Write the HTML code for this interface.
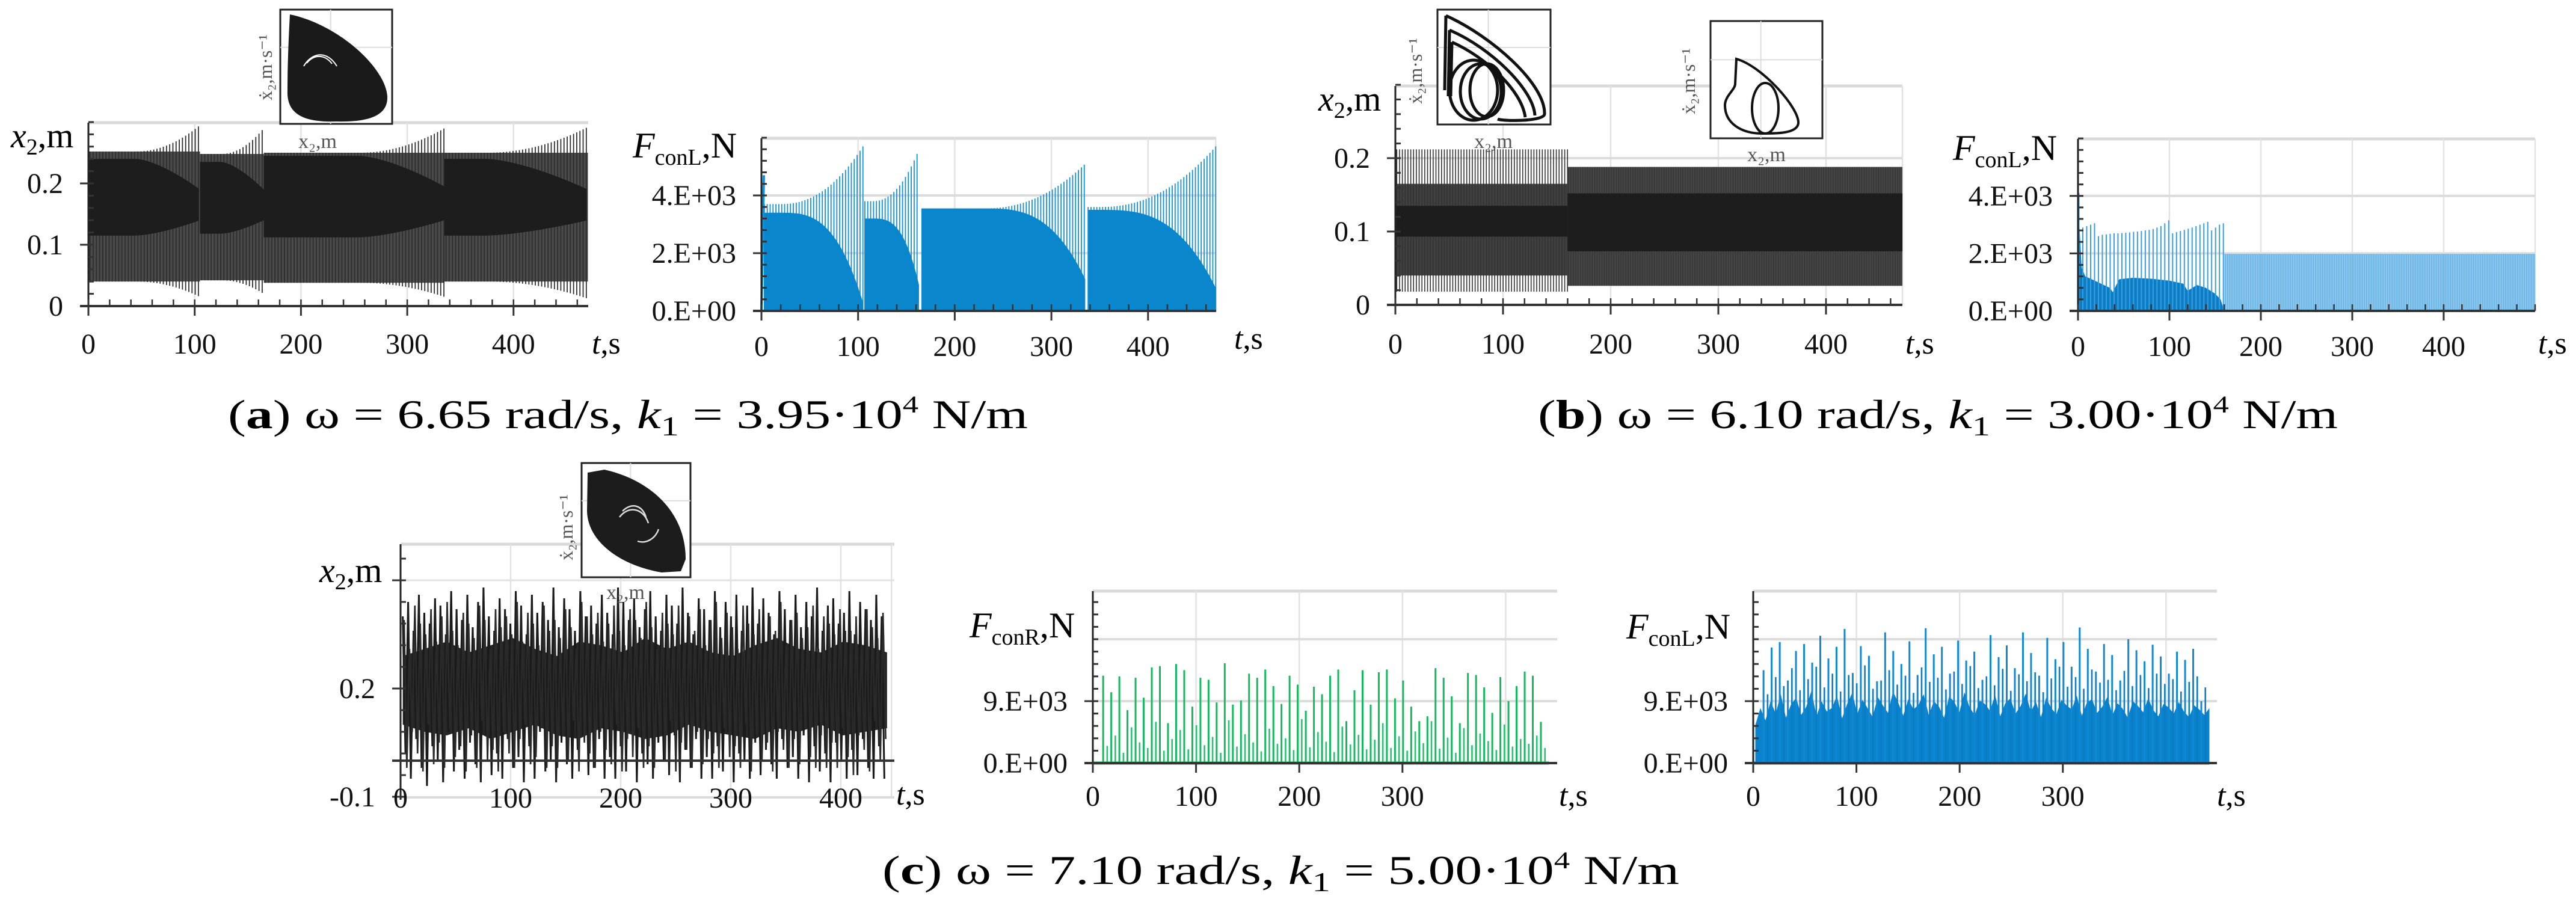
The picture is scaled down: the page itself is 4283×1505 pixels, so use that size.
<!DOCTYPE html>
<html><head><meta charset="utf-8">
<style>
html,body{margin:0;padding:0;background:#fff;}
svg{display:block;font-family:"Liberation Serif","Times New Roman",serif;}
svg text{font-family:"Liberation Serif","Times New Roman",serif;}
</style></head>
<body>
<svg id="fig" width="4283" height="1505" viewBox="0 0 4283 1505" xmlns="http://www.w3.org/2000/svg">
<rect x="0" y="0" width="4283" height="1505" fill="#fff"/>
<g id="layer-grid"></g>
<g id="layer-data"></g>
<g id="layer-axes"></g>
<g id="layer-insets"></g>

<text x="18" y="245" font-size="58"><tspan font-style="italic">x</tspan><tspan font-size="38" dy="12">2</tspan><tspan dy="-12">,m</tspan></text>
<text x="1052" y="262" font-size="60"><tspan font-style="italic">F</tspan><tspan font-size="38" dy="12">conL</tspan><tspan dy="-12">,N</tspan></text>
<text x="2192" y="184" font-size="58"><tspan font-style="italic">x</tspan><tspan font-size="38" dy="12">2</tspan><tspan dy="-12">,m</tspan></text>
<text x="3247" y="266" font-size="60"><tspan font-style="italic">F</tspan><tspan font-size="38" dy="12">conL</tspan><tspan dy="-12">,N</tspan></text>
<text x="531" y="968" font-size="58"><tspan font-style="italic">x</tspan><tspan font-size="38" dy="12">2</tspan><tspan dy="-12">,m</tspan></text>
<text x="1612" y="1060" font-size="60"><tspan font-style="italic">F</tspan><tspan font-size="38" dy="12">conR</tspan><tspan dy="-12">,N</tspan></text>
<text x="2704" y="1062" font-size="60"><tspan font-style="italic">F</tspan><tspan font-size="38" dy="12">conL</tspan><tspan dy="-12">,N</tspan></text>

<text x="984" y="588" font-size="52"><tspan font-style="italic">t</tspan>,s</text>
<text x="2052" y="580" font-size="52"><tspan font-style="italic">t</tspan>,s</text>
<text x="3168" y="588" font-size="52"><tspan font-style="italic">t</tspan>,s</text>
<text x="4220" y="588" font-size="52"><tspan font-style="italic">t</tspan>,s</text>
<text x="1490" y="1338" font-size="52"><tspan font-style="italic">t</tspan>,s</text>
<text x="2592" y="1340" font-size="52"><tspan font-style="italic">t</tspan>,s</text>
<text x="3686" y="1340" font-size="52"><tspan font-style="italic">t</tspan>,s</text>

<text x="379" y="712" font-size="68" textLength="1330" lengthAdjust="spacingAndGlyphs">(<tspan font-weight="bold">a</tspan>) ω = 6.65 rad/s,  <tspan font-style="italic">k</tspan><tspan font-size="46" dy="12">1</tspan><tspan dy="-12"> = 3.95·10</tspan><tspan font-size="40" dy="-26">4</tspan><tspan dy="26"> N/m</tspan></text>
<text x="2557" y="712" font-size="68" textLength="1330" lengthAdjust="spacingAndGlyphs">(<tspan font-weight="bold">b</tspan>) ω = 6.10 rad/s,  <tspan font-style="italic">k</tspan><tspan font-size="46" dy="12">1</tspan><tspan dy="-12"> = 3.00·10</tspan><tspan font-size="40" dy="-26">4</tspan><tspan dy="26"> N/m</tspan></text>
<text x="1467" y="1470" font-size="68" textLength="1325" lengthAdjust="spacingAndGlyphs">(<tspan font-weight="bold">c</tspan>) ω = 7.10 rad/s,  <tspan font-style="italic">k</tspan><tspan font-size="46" dy="12">1</tspan><tspan dy="-12"> = 5.00·10</tspan><tspan font-size="40" dy="-26">4</tspan><tspan dy="26"> N/m</tspan></text>
</svg>

<script>
const NS = 'http://www.w3.org/2000/svg';
const gGrid = document.getElementById('layer-grid');
const gData = document.getElementById('layer-data');
const gAxes = document.getElementById('layer-axes');
const gIns = document.getElementById('layer-insets');

/* ---------------- data arrays ---------------- */
const aSegStart = [0, 105, 165, 335];
const aSegEnd = [105, 165, 335, 470];
const aGrowFrom = [45, 125, 255, 375];
const aHiBase = [0.252, 0.248, 0.25, 0.25];
const aHiPeak = [0.295, 0.29, 0.29, 0.292];
const aLoBase = [0.04, 0.042, 0.038, 0.04];
const aLoPeak = [0.015, 0.02, 0.015, 0.012];
const aCoreTop = [0.24, 0.235, 0.245, 0.24];
const aCoreTopEnd = [0.19, 0.19, 0.195, 0.19];
const aCoreBot = [0.115, 0.118, 0.112, 0.115];
const aCoreBotEnd = [0.14, 0.14, 0.14, 0.14];
const aFStart = [3, 107, 166, 338];
const aFEnd = [105, 163, 335, 470];
const aFGrowFrom = [20, 115, 230, 350];
const aFBase = [3700, 3800, 3550, 3600];
const aFPeak = [5700, 5600, 5100, 5700];
const aFFillTop = [3400, 3200, 3550, 3500];
const aFFillEnd = [300, 900, 1100, 800];
const bSegStart = [0, 160];
const bSegEnd = [160, 471];
const bHi = [0.212, 0.188];
const bLo = [0.018, 0.026];
const bGrayHi = [0.165, 0.188];
const bGrayLo = [0.04, 0.026];
const bCoreHi = [0.135, 0.152];
const bCoreLo = [0.093, 0.073];
const bFSpike1 = [4100,2900,2950,3000,3050,2600,2650,2660,2680,2700,2700,2710,2720,2730,2750,2760,2780,2800,2820,2850,2900,2950,3050,3150,2700,2740,2780,2820,2860,2900,2950,3000,3050,3100,2800,2900,3000,3050];
const bFFillT = [0,4,8,15,25,35,38,45,60,80,100,115,120,130,140,150,156,160];
const bFFillV = [3900,1500,1200,1100,950,800,650,1100,1150,1120,1050,950,700,900,800,600,400,0];
const bFLevel2 = 1980;
const cHi = [0.40,0.44,0.36,0.46,0.41,0.38,0.45,0.43,0.35,0.47,0.42,0.39,0.46,0.37,0.44,0.48,0.40,0.36,0.45,0.42,0.38,0.47,0.43,0.35,0.46,0.41,0.44,0.39,0.48,0.37,0.45,0.42,0.36,0.47,0.40,0.43,0.38,0.46,0.41,0.35,0.48,0.44,0.39,0.45,0.37,0.42,0.47,0.40,0.36,0.46,0.43,0.38,0.48,0.41,0.35,0.45,0.42,0.39,0.47,0.37,0.44,0.40,0.46,0.36,0.43,0.48,0.38,0.45,0.41,0.35,0.47,0.42,0.39,0.46,0.37,0.44,0.40,0.48,0.36,0.43,0.45,0.38,0.41,0.47,0.35,0.44,0.42,0.39,0.46,0.40];
const cLo = [0.02,-0.05,0.06,-0.02,-0.07,0.04,0.00,-0.06,0.08,-0.03,0.03,-0.05,0.05,-0.01,-0.06,0.07,-0.04,0.02,-0.05,0.06,-0.02,0.01,-0.06,0.04,-0.05,0.08,-0.03,0.00,-0.06,0.05,-0.01,-0.05,0.03,0.07,-0.04,-0.02,0.06,-0.05,0.01,-0.05,0.04,-0.03,0.08,-0.06,0.02,-0.01,-0.05,0.05,0.00,-0.04,0.07,-0.06,0.03,-0.02,0.06,-0.05,0.01,-0.05,0.04,-0.03,0.08,-0.06,0.02,0.00,-0.05,0.05,-0.04,0.03,-0.01,-0.05,0.06,-0.02,0.01,-0.05,0.07,-0.06,0.04,-0.03,0.02,-0.06,0.05,0.00,-0.05,0.03,-0.04,0.06,-0.02,-0.05,0.04,-0.05];
const cCoreHi = [0.29,0.31,0.33,0.30,0.32,0.34,0.31,0.29,0.33,0.32,0.30,0.34,0.31,0.33,0.30,0.29,0.32,0.34,0.31,0.30,0.33,0.32,0.30];
const cCoreLo = [0.10,0.08,0.07,0.09,0.06,0.08,0.10,0.07,0.06,0.09,0.08,0.06,0.07,0.10,0.08,0.07,0.06,0.09,0.08,0.10,0.07,0.08,0.09];
const cGreenPeak = [12700,10300,12600,7700,12400,9500,13900,14100,5800,14400,13500,8200,12400,12100,8800,14500,8500,9100,13000,12400,13600,11200,8600,12700,11400,7600,11100,10000,12700,13600,6100,10600,13500,8500,13200,13600,9400,12000,8200,6100,6800,13800,12400,9700,5800,13100,12800,11000,7300,12500,9000,11200,13300,12700,6000];
const cGreenSmall = [2500,4000,1500,5200,3000,2200,6000,1800,3500,4800,2000,5500,2600,3800,1500,6200,2400,4200,3000,1700,5000,2800,3600,1900,6400,2300,4500,3100,1600,5300,2700,4100,2000,3400,5800,2200,3900,1800,4600,2900,6100,2100,3700,1500,5100,2600,4300,3200,1900,5600,2400,3500,2800,4000,2200];
const cBluePeak = [13500,16800,17600,12000,16300,17300,14600,18500,15200,16900,19500,13100,17000,15600,11900,19000,16300,14400,17700,12800,19600,15800,16900,13000,17800,14900,16200,12100,18600,15400,17100,13800,19000,16000,12700,18200,15100,17600,14000,19700,16600,13300,17300,15700,12000,18000,16400,14800,17200,15500,13000,16200,15000,16600,9000];
const cBlueMid = [10000,12500,11200,13800,10600,12200,14000,11000,13000,10400,12800,11600,14200,10800,12000,13500,11400,12700,10200,13900,11800,12400,10700,13300,11500,14100,10900,12600,11300,13700,10500,12900,11900,13200,10300,12300,14000,11100,12500,10800,13600,11700,12100,10600,13400,11200,12800,10900,13000,11500,12200,10400,11800,12600,11000];
const cBlueFill = [5500,8000,6200,9000,7200,10000,6600,8500,9500,7000,8200,10500,6800,9000,7500,8000,9800,6500,8600,10200,7200,9200,8000,6700,9600,8400,7300,10400,8800,6900,9300,7800,8500,10000,7000,9000,8200,6600,9700,8900,7400,10300,8100,7000,9100,8600,7600,9900,6800,8700,9400,7200,8300,10100,7500,8900,6700,9500,8000,7100,9200,8400,7800,9800,6900,8800,9300,7300,8200,9600,7000,8700,7900,6600,9000,8300,7400,9400,7700,6800,8600,8100,7200,8900,7500,6700,8400,7800,7000,8000];

const tXTicks = [0,100,200,300,400];
const tXLabels = ['0','100','200','300','400'];
const xYTicks = [0,0.1,0.2];
const xYLabels = ['0','0.1','0.2'];
const fYTicks = [0,2000,4000];
const fYLabels = ['0.E+00','2.E+03','4.E+03'];
const cYTicks = [-0.1,0.2];
const cYLabels = ['-0.1','0.2'];
const cfXTicks = [0,100,200,300];
const cfXLabels = ['0','100','200','300'];
const cfYTicks = [0,9000];
const cfYLabels = ['0.E+00','9.E+03'];

const PA1 = {x0:147, xs:1.767, y0:509, ys:1020, top:204, right:978};
const PA2 = {x0:1266, xs:1.607, y0:517, ys:0.048, top:230, right:2022};
const PB1 = {x0:2320, xs:1.79, y0:507, ys:1220, top:143, right:3163};
const PB2 = {x0:3455, xs:1.52, y0:517, ys:0.0478, top:231, right:4215};
const PC1 = {x0:666, xs:1.83, y0:1265, ys:600, top:905, right:1487};
const PC2 = {x0:1817, xs:1.716, y0:1269, ys:0.011444, top:983, right:2589};
const PC3 = {x0:2915, xs:1.716, y0:1269, ys:0.011444, top:983, right:3686};
const X = (p,t) => p.x0 + t*p.xs;
const Y = (p,v) => p.y0 - v*p.ys;

function mk(tag, parent, attrs) {
  const e = document.createElementNS(NS, tag);
  for (const k in attrs) e.setAttribute(k, attrs[k]);
  parent.appendChild(e);
  return e;
}
function grp(parent, name) {
  const g = mk('g', parent, {});
  
  
  return g;
}
const clamp01 = v => Math.max(0, Math.min(1, v));

function grid(p, name, vgrid, hgridV, bottom) {
  const g = grp(gGrid, name);
  const tl = mk('line', g, {x1:p.x0, y1:p.top, x2:p.right, y2:p.top, stroke:'#dadada', 'stroke-width':5});
  
  
  for (const t of vgrid) {
    const l = mk('line', g, {x1:X(p,t), y1:p.top, x2:X(p,t), y2:bottom || p.y0, stroke:'#e2e2e2', 'stroke-width':2.5});
    
    
  }
  for (const v of hgridV) {
    const l = mk('line', g, {x1:p.x0, y1:Y(p,v), x2:p.right, y2:Y(p,v), stroke:'#dcdcdc', 'stroke-width':4});
    
    
  }
}
grid(PA1, 'a-left-grid', [100,200,300,400], []);
grid(PA2, 'a-right-grid', [100,200,300,400,470], [2000,4000]);
grid(PB1, 'b-left-grid', [100,200,300,400,471], [0.2]);
grid(PB2, 'b-right-grid', [100,200,300,400,500], [2000,4000]);
grid(PC1, 'c-left-grid', [100,200,300,400,446], [], 1326);
(function(){
  const l = mk('line', gGrid, {x1:PC1.x0, y1:1326, x2:PC1.right, y2:1326, stroke:'#dcdcdc', 'stroke-width':4});
  
  
  const l2 = mk('line', gGrid, {x1:PC1.x0, y1:Y(PC1,0.5), x2:PC1.right, y2:Y(PC1,0.5), stroke:'#e2e2e2', 'stroke-width':3});
  
  
})();
grid(PC2, 'c-mid-grid', [100,200,300,400], [9000,18000]);
grid(PC3, 'c-right-grid', [100,200,300,400], [9000,18000]);

// (a) left
(function(){
  const p = PA1; const g = grp(gData, 'a-left-x2-series');
  for (let i = 0; i < aSegStart.length; i++) {
    const s = aSegStart[i], e = aSegEnd[i];
    const gr = t => clamp01((t - aGrowFrom[i]) / (e - aGrowFrom[i]));
    const band = mk('rect', g, {x:X(p,s), y:Y(p,aHiBase[i]), width:X(p,e)-X(p,s), height:Y(p,aLoBase[i])-Y(p,aHiBase[i]), fill:'#4a4a4a'});
    
    
    for (let t = s + 1.5; t < e; t += 3.0) {
      const k = gr(t) * gr(t);
      const hi = aHiBase[i] + (aHiPeak[i] - aHiBase[i]) * k;
      const lo = aLoBase[i] - (aLoBase[i] - aLoPeak[i]) * k;
      const l = mk('line', g, {x1:X(p,t), y1:Y(p,hi), x2:X(p,t), y2:Y(p,lo), stroke:'#2e2e2e', 'stroke-width':1.8});
      
      
    }
    const top = [], bot = [];
    for (let t = s; t <= e; t += 2) {
      const k = Math.pow(gr(t), 1.5);
      top.push(X(p,t) + ',' + Y(p, aCoreTop[i] - (aCoreTop[i] - aCoreTopEnd[i]) * k));
      bot.unshift(X(p,t) + ',' + Y(p, aCoreBot[i] + (aCoreBotEnd[i] - aCoreBot[i]) * k));
    }
    const poly = mk('polygon', g, {points: top.concat(bot).join(' '), fill:'#1d1d1d'});
    
    
  }
})();

// (a) right
(function(){
  const p = PA2; const g = grp(gData, 'a-right-force-series');
  for (let i = 0; i < aFStart.length; i++) {
    const s = aFStart[i], e = aFEnd[i];
    const gr = t => clamp01((t - aFGrowFrom[i]) / (e - aFGrowFrom[i]));
    for (let t = s; t <= e; t += 3.0) {
      const k = Math.pow(gr(t), 2.2);
      const v = aFBase[i] + (aFPeak[i] - aFBase[i]) * k;
      const l = mk('line', g, {x1:X(p,t), y1:Y(p,0), x2:X(p,t), y2:Y(p,v), stroke:'#1590d6', 'stroke-width':1.8});
      
      
    }
    const pts = [X(p,s) + ',' + Y(p,0)];
    for (let t = s; t <= e; t += 1) {
      const k = Math.pow(gr(t), 3);
      pts.push(X(p,t) + ',' + Y(p, aFFillTop[i] - (aFFillTop[i] - aFFillEnd[i]) * k));
    }
    pts.push(X(p,e) + ',' + Y(p,0));
    const poly = mk('polygon', g, {points: pts.join(' '), fill:'#0a86cc'});
    
    
  }
  const l0 = mk('line', g, {x1:X(p,0), y1:Y(p,0), x2:X(p,0)+4, y2:Y(p,4700), stroke:'#1590d6', 'stroke-width':4});
  
  
})();

// (b) left
(function(){
  const p = PB1; const g = grp(gData, 'b-left-x2-series');
  for (let i = 0; i < bSegStart.length; i++) {
    const s = bSegStart[i], e = bSegEnd[i];
    const gray = mk('rect', g, {x:X(p,s), y:Y(p,bGrayHi[i]), width:X(p,e)-X(p,s), height:Y(p,bGrayLo[i])-Y(p,bGrayHi[i]), fill: i === 0 ? '#404040' : '#505050'});
    
    
    const step = i === 0 ? 2.6 : 1.6;
    for (let t = s + step/2; t < e; t += step) {
      const l = mk('line', g, {x1:X(p,t), y1:Y(p,bHi[i]), x2:X(p,t), y2:Y(p,bLo[i]), stroke:'#333', 'stroke-width': 1.6});
      
      
    }
    const core = mk('rect', g, {x:X(p,s), y:Y(p,bCoreHi[i]), width:X(p,e)-X(p,s), height:Y(p,bCoreLo[i])-Y(p,bCoreHi[i]), fill:'#1d1d1d'});
    
    
  }
})();

// (b) right
(function(){
  const p = PB2; const g = grp(gData, 'b-right-force-series');
  for (let t = 160.5; t < 500; t += 1) {
    const l = mk('line', g, {x1:X(p,t), y1:Y(p,0), x2:X(p,t), y2:Y(p,bFLevel2), stroke:'#5aaee4', 'stroke-width':1.2});
    
    
  }
  const pts = [];
  for (let i = 0; i < bFFillT.length; i++) pts.push(X(p,bFFillT[i]) + ',' + Y(p,bFFillV[i]));
  pts.push(X(p,160) + ',' + Y(p,0)); pts.push(X(p,0) + ',' + Y(p,0));
  const poly = mk('polygon', g, {points: pts.join(' '), fill:'#0a7dc6'});
  
  
  const n = bFSpike1.length;
  for (let i = 0; i < n; i++) {
    const t = 1 + i * (158 / (n - 1));
    const l = mk('line', g, {x1:X(p,t), y1:Y(p,0), x2:X(p,t), y2:Y(p,bFSpike1[i]), stroke:'#3a9edc', 'stroke-width':2});
    
    
  }
})();

// (c) left
(function(){
  const p = PC1; const g = grp(gData, 'c-left-x2-series');
  const nC = cCoreHi.length;
  const top = [], bot = [];
  for (let i = 0; i < nC; i++) {
    const t = 2 + i * (440 / (nC - 1));
    top.push(X(p,t) + ',' + Y(p,cCoreHi[i]));
    bot.unshift(X(p,t) + ',' + Y(p,cCoreLo[i]));
  }
  const core = mk('polygon', g, {points: top.concat(bot).join(' '), fill:'#262626'});
  
  
  const n = cHi.length; const dt = 440 / n;
  const pts = [];
  for (let i = 0; i < n; i++) {
    const t = 2 + i * dt;
    pts.push(X(p,t) + ',' + Y(p,cHi[i]));
    pts.push(X(p,t + dt/2) + ',' + Y(p,cLo[i]));
  }
  const pl = mk('polyline', g, {points: pts.join(' '), fill:'none', stroke:'#1a1a1a', 'stroke-width':3});
  
  
  const pts2 = [];
  for (let i = 0; i < n; i++) {
    const t = 2 + i * dt + dt/4;
    pts2.push(X(p,t) + ',' + Y(p,cHi[(i + 7) % n] - 0.04));
    pts2.push(X(p,t + dt/2) + ',' + Y(p,cLo[(i + 11) % n] + 0.03));
  }
  const pl2 = mk('polyline', g, {points: pts2.join(' '), fill:'none', stroke:'#2a2a2a', 'stroke-width':2.6});
  
  
})();

function forcePanel(p, name, peaks, small, color, smallColor) {
  const g = grp(gData, name);
  const n = peaks.length; const dt = 432 / n;
  for (let i = 0; i < small.length; i++) {
    const t = 10 + i * dt + dt/2;
    const l = mk('line', g, {x1:X(p,t), y1:Y(p,0), x2:X(p,t), y2:Y(p,small[i]), stroke:smallColor, 'stroke-width':2.6});
    
    
  }
  for (let i = 0; i < n; i++) {
    const t = 10 + i * dt;
    const l = mk('line', g, {x1:X(p,t), y1:Y(p,0), x2:X(p,t), y2:Y(p,peaks[i]), stroke:color, 'stroke-width':3});
    
    
  }
  const b = mk('line', g, {x1:p.x0, y1:p.y0, x2:X(p,442), y2:p.y0, stroke:color, 'stroke-width':5});
  
  
  return g;
}
forcePanel(PC2, 'c-mid-forceR-series', cGreenPeak, cGreenSmall, '#14b85e', '#22c46c');
(function(){
  const p = PC3;
  const g = grp(gData, 'c-right-fill');
  const n = cBlueFill.length;
  const pts = [X(p,2) + ',' + Y(p,0)];
  for (let i = 0; i < n; i++) pts.push(X(p, 2 + i * (440 / (n - 1))) + ',' + Y(p, cBlueFill[i]));
  pts.push(X(p,442) + ',' + Y(p,0));
  const poly = mk('polygon', g, {points: pts.join(' '), fill:'#0b82cc'});
  
  
})();
forcePanel(PC3, 'c-right-forceL-series', cBluePeak, cBlueMid, '#1088d4', '#0a7cc6');

function axes(p, name, o) {
  const g = grp(gAxes, name);
  const ya = mk('line', g, {x1:p.x0, y1:p.top, x2:p.x0, y2:o.yBottom || p.y0 + 6, stroke:'#222', 'stroke-width':3});
  
  
  const xa = mk('line', g, {x1:p.x0 - 14, y1:p.y0, x2:p.right, y2:p.y0, stroke:'#333', 'stroke-width':4});
  
  
  for (let v = o.ymin; v <= o.ymax + 1e-9; v += o.yminor) {
    const t = mk('line', g, {x1:p.x0, y1:Y(p,v), x2:p.x0 + 9, y2:Y(p,v), stroke:'#333', 'stroke-width':3});
    
    
  }
  if (o.xminor) for (let s = 0; s <= o.tmax; s += o.xminor) {
    const t = mk('line', g, {x1:X(p,s), y1:p.y0, x2:X(p,s), y2:p.y0 - 11, stroke:'#333', 'stroke-width':2.5});
    
    
  }
  o.yt.forEach((v, i) => {
    const t = mk('line', g, {x1:p.x0 - 14, y1:Y(p,v), x2:p.x0, y2:Y(p,v), stroke:'#333', 'stroke-width':3});
    
    
    const tx = mk('text', g, {x:p.x0 - 42, y:Y(p,v) + 16, 'font-size':48, 'text-anchor':'end', fill:'#111'});
    tx.textContent = o.yl[i];
    
    
  });
  o.xt.forEach((s, i) => {
    const t = mk('line', g, {x1:X(p,s), y1:p.y0, x2:X(p,s), y2:p.y0 + 16, stroke:'#333', 'stroke-width':3});
    
    
    const tx = mk('text', g, {x:X(p,s), y:o.xly, 'font-size':48, 'text-anchor':'middle', fill:'#111'});
    tx.textContent = o.xl[i];
    
    
  });
}
axes(PA1, 'a-left-axes', {ymin:0, ymax:0.3, yminor:0.02, xminor:20, tmax:470, yt:xYTicks, yl:xYLabels, xt:tXTicks, xl:tXLabels, xly:588});
axes(PA2, 'a-right-axes', {ymin:0, ymax:6000, yminor:400, xminor:20, tmax:470, yt:fYTicks, yl:fYLabels, xt:tXTicks, xl:tXLabels, xly:592});
axes(PB1, 'b-left-axes', {ymin:0, ymax:0.3, yminor:0.02, xminor:20, tmax:470, yt:xYTicks, yl:xYLabels, xt:tXTicks, xl:tXLabels, xly:588});
axes(PB2, 'b-right-axes', {ymin:0, ymax:6000, yminor:400, xminor:20, tmax:500, yt:fYTicks, yl:fYLabels, xt:tXTicks, xl:tXLabels, xly:592});
axes(PC1, 'c-left-axes', {ymin:-0.1, ymax:0.6, yminor:0.06, xminor:0, tmax:446, yt:cYTicks, yl:cYLabels, xt:[], xl:[], xly:1343, yBottom:1330});
(function(){
  const g = grp(gAxes, 'c-left-x-labels');
  tXTicks.forEach((s, i) => {
    const tx = mk('text', g, {x:X(PC1,s), y:1343, 'font-size':48, 'text-anchor':'middle', fill:'#111'});
    tx.textContent = tXLabels[i];
    
    
  });
  const tk = mk('line', g, {x1:PC1.x0 - 14, y1:Y(PC1,0.5), x2:PC1.x0, y2:Y(PC1,0.5), stroke:'#333', 'stroke-width':3});
  
  
})();
axes(PC2, 'c-mid-axes', {ymin:0, ymax:25000, yminor:1800, xminor:0, tmax:450, yt:cfYTicks, yl:cfYLabels, xt:cfXTicks, xl:cfXLabels, xly:1340});
axes(PC3, 'c-right-axes', {ymin:0, ymax:25000, yminor:1800, xminor:0, tmax:450, yt:cfYTicks, yl:cfYLabels, xt:cfXTicks, xl:cfXLabels, xly:1340});

function inset(name, x, y, w, h) {
  const g = grp(gIns, name);
  const bg = mk('rect', g, {x:x, y:y, width:w, height:h, fill:'#fff', stroke:'#222', 'stroke-width':3});
  
  
  const gl = mk('line', g, {x1:x + w*0.45, y1:y, x2:x + w*0.45, y2:y + h, stroke:'#ddd', 'stroke-width':2});
  
  
  const gl2 = mk('line', g, {x1:x, y1:y + h*0.33, x2:x + w, y2:y + h*0.33, stroke:'#ddd', 'stroke-width':2});
  
  
  return g;
}
function insetLabels(g, vx, vy, hx, hy) {
  const v = mk('text', g, {x:vx, y:vy, 'font-size':32, fill:'#555', transform:'rotate(-90 ' + vx + ' ' + vy + ')', 'text-anchor':'middle'});
  v.textContent = 'ẋ₂,m·s⁻¹';
  
  
  const hz = mk('text', g, {x:hx, y:hy, 'font-size':34, fill:'#555', 'text-anchor':'middle'});
  hz.textContent = 'x₂,m';
  
  
}
(function(){
  const g = inset('inset-a', 466, 16, 186, 190);
  const s = mk('path', g, {d:'M482 24 C560 40 640 110 644 160 C646 198 600 203 560 202 C505 204 476 190 478 150 C478 110 480 60 482 24 Z', fill:'#1a1a1a'});
  
  
  const a = mk('path', g, {d:'M505 110 C520 85 545 85 560 110 M510 105 C522 90 540 90 552 106', fill:'none', stroke:'#fff', 'stroke-width':2});
  
  
  insetLabels(g, 452, 112, 528, 246);
})();
(function(){
  const g = inset('inset-b1', 2390, 16, 188, 191);
  const d = 'M2404 26 C2480 60 2570 140 2568 190 C2566 202 2500 202 2490 198 ' +
            'M2410 50 C2480 80 2550 150 2552 192 ' +
            'M2414 70 C2470 95 2530 150 2536 195 ' +
            'M2404 26 L2402 150 M2410 50 L2408 160 M2414 70 L2412 160';
  const s = mk('path', g, {d:d, fill:'none', stroke:'#111', 'stroke-width':5});
  
  
  for (const [cx, cy, rx, ry] of [[2450,150,40,50],[2462,152,34,46],[2472,150,28,44]]) {
    const e = mk('ellipse', g, {cx:cx, cy:cy, rx:rx, ry:ry, fill:'none', stroke:'#111', 'stroke-width':5});
    
    
  }
  insetLabels(g, 2364, 118, 2483, 246);
})();
(function(){
  const g = inset('inset-b2', 2844, 35, 186, 195);
  const s = mk('path', g, {d:'M2887 98 C2930 110 2992 180 2990 205 C2988 222 2955 222 2930 222 C2895 222 2868 205 2868 175 C2868 160 2884 150 2885 140 Z', fill:'none', stroke:'#111', 'stroke-width':4});
  
  
  const e = mk('ellipse', g, {cx:2935, cy:180, rx:22, ry:42, fill:'none', stroke:'#111', 'stroke-width':4});
  
  
  insetLabels(g, 2818, 135, 2937, 268);
})();
(function(){
  const g = inset('inset-c', 967, 770, 181, 190);
  const s = mk('path', g, {d:'M977 786 L1005 781 C1080 798 1140 850 1140 930 L1132 950 L1100 952 C1030 940 977 900 976 850 Z', fill:'#1c1c1c'});
  
  
  const a = mk('path', g, {d:'M1030 860 C1045 840 1070 845 1078 870 M1060 900 C1075 905 1090 895 1095 880 M1035 850 C1050 835 1068 840 1074 860', fill:'none', stroke:'#ddd', 'stroke-width':2.5});
  
  
  insetLabels(g, 952, 877, 1040, 996);
})();
</script>
</body></html>
